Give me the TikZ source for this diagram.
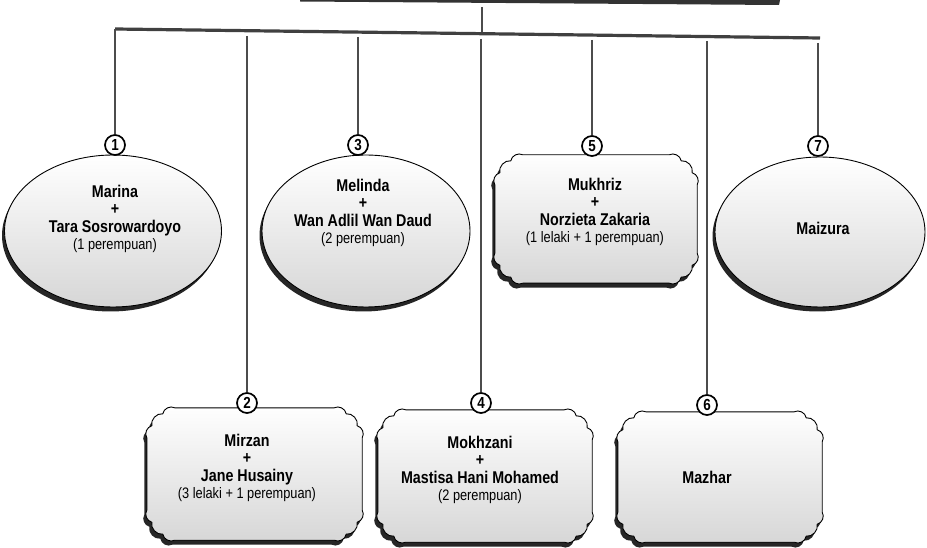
\documentclass[tikz,border=0pt]{standalone}
\usepackage{fontspec}
\setmainfont{Liberation Sans}[FakeStretch=0.84]
\usepackage{tikz}
\usetikzlibrary{calc, shapes.geometric, shadows}
\tikzset{
  famshade/.style={top color=white, bottom color=black!16, draw=black, line width=0.9pt,
    drop shadow={shadow xshift=-2.5pt, shadow yshift=-4.5pt, opacity=1, fill=black!85}},
  famoval/.style={ellipse, famshade, inner sep=0pt},
  famslot/.style={rectangle, inner sep=0pt},
  famtext/.style={align=center, font=\bfseries\fontsize{17}{17.5}\selectfont},
  numcirc/.style={circle, draw, line width=1.7pt, fill=white, minimum size=20pt, inner sep=0pt,
    font=\bfseries\fontsize{16}{16}\selectfont},
  stem/.style={line width=2.6pt, black!70},
  trunk/.style={line width=3.2pt, black!75}
}
\newcommand{\kids}[1]{{\mdseries\fontsize{15.2}{17}\selectfont #1}}
\newcommand{\scallopbox}[1]{%
  \draw[famshade] let \p1=(#1.north west), \p2=(#1.south east) in
    (\x1,\y1-30pt) to[bend left=55] (\x1+5pt,\y1-18pt) to[bend left=55] (\x1+16pt,\y1-6pt)
      to[bend left=55] (\x1+28pt,\y1)
    -- (\x2-28pt,\y1) to[bend left=55] (\x2-16pt,\y1-6pt) to[bend left=55] (\x2-5pt,\y1-18pt)
      to[bend left=55] (\x2,\y1-30pt)
    -- (\x2,\y2+30pt) to[bend left=55] (\x2-5pt,\y2+18pt) to[bend left=55] (\x2-16pt,\y2+6pt)
      to[bend left=55] (\x2-28pt,\y2)
    -- (\x1+28pt,\y2) to[bend left=55] (\x1+16pt,\y2+6pt) to[bend left=55] (\x1+5pt,\y2+18pt)
      to[bend left=55] (\x1,\y2+30pt)
    -- cycle;}

\begin{document}
\begin{tikzpicture}[x=1pt, y=-1pt]
\useasboundingbox (0,0) rectangle (927,548);
\fill[black!80] (300,0) -- (780,0) -- (779,5) -- (300,1.5) -- cycle;

\node[famoval, minimum width=217pt, minimum height=152pt] (e1) at (113,231) {};
\node[famoval, minimum width=208pt, minimum height=152pt] (e3) at (366,231) {};
\node[famoval, minimum width=210pt, minimum height=150pt] (e7) at (820,232) {};
\node[famslot, minimum width=202pt, minimum height=128pt] (b5) at (596,219) {};
\node[famslot, minimum width=215pt, minimum height=132pt] (b2) at (254.5,474) {};
\node[famslot, minimum width=214pt, minimum height=132pt] (b4) at (485,476) {};
\node[famslot, minimum width=204pt, minimum height=130pt] (b6) at (720,477) {};
\scallopbox{b5}
\scallopbox{b2}
\scallopbox{b4}
\scallopbox{b6}

\node[famtext] (t1) at (115,219) {Marina\\+\\Tara Sosrowardoyo\\\kids{(1 perempuan)}};
\node[famtext] (t3) at (363,213) {Melinda\\+\\Wan Adlil Wan Daud\\\kids{(2 perempuan)}};
\node[famtext] (t5) at (595,212) {Mukhriz\\+\\Norzieta Zakaria\\\kids{(1 lelaki + 1 perempuan)}};
\node[famtext] (t7) at (823,228) {Maizura};
\node[famtext] (t2) at (247,468) {Mirzan\\+\\Jane Husainy\\\kids{(3 lelaki + 1 perempuan)}};
\node[famtext] (t4) at (480,470) {Mokhzani\\+\\Mastisa Hani Mohamed\\\kids{(2 perempuan)}};
\node[famtext] (t6) at (707,477) {Mazhar};

\coordinate (top) at (482,7);
\coordinate (joint) at (482,33);
\coordinate (c1) at (115,29);
\coordinate (cend) at (820,38);
\coordinate (c2) at (247,36);
\coordinate (c3) at (358,37);
\coordinate (c4) at (481,39);
\coordinate (c5) at (592,40);
\coordinate (c6) at (707,41);
\coordinate (c7) at (818,43);

\node[numcirc] (n1) at (115,145) {1};
\node[numcirc] (n3) at (358,145) {3};
\node[numcirc] (n5) at (592,146) {5};
\node[numcirc] (n7) at (818,146) {7};
\node[numcirc] (n2) at (247,403) {2};
\node[numcirc] (n4) at (481,403) {4};
\node[numcirc] (n6) at (707,405) {6};

\draw[stem] (top) -- (joint);
\draw[trunk] (c1) -- (cend);
\foreach \i in {1,...,7}
  \draw[stem] (c\i) -- (n\i);
\end{tikzpicture}
\end{document}
